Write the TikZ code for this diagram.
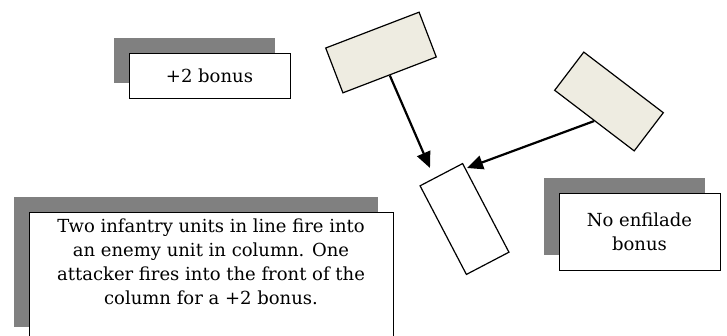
\documentclass[tikz,border=0pt]{standalone}
\usepackage{fontspec}
\setmainfont{DejaVu Serif}
\usepackage{tikz}
\usetikzlibrary{arrows.meta, positioning, shadows}
\definecolor{unitfill}{HTML}{EEECE1}
\definecolor{shadowgray}{RGB}{128,128,128}
\tikzset{
    unitblock/.style={
        rectangle,
        draw=black,
        line width=1.2pt,
        fill=unitfill,
        inner sep=0pt,
        minimum width=100pt,
        minimum height=48pt
    },
    notebox/.style={
        rectangle,
        draw=black,
        line width=1pt,
        fill=white,
        text centered,
        font={\fontsize{18}{24}\selectfont},
        drop shadow={shadow xshift=-15pt, shadow yshift=15pt, fill=shadowgray, opacity=1}
    },
    notetext/.style={
        align=center,
        inner sep=4pt,
        font={\fontsize{18}{24}\selectfont}
    },
    fire/.style={
        draw=black,
        line width=2.2pt,
        -{Triangle[length=16pt, width=14pt]}
    }
}
\begin{document}
\begin{tikzpicture}[x=1pt, y=-1pt]
\useasboundingbox (0,0) rectangle (727,335);

% Notes
\node[notebox, minimum width=161pt, minimum height=45pt] (bonus) at (209.5,75.5) {+2 bonus};
\node[notebox, minimum width=161pt, minimum height=77pt, align=center] (enfilade) at (639.5,231.5) {No enfilade\\bonus};
\node[notebox, minimum width=364pt, minimum height=130pt] (summary) at (211,277) {};
\node[notetext, below=3pt of summary.north] (summarytext) {Two infantry units in line fire into\\an enemy unit in column. One\\attacker fires into the front of the\\column for a +2 bonus.};

% Units
\node[unitblock, rotate=21] (atkleft) at (381,52.5) {};
\node[unitblock, rotate=-37.3] (atkright) at (609,101.5) {};
\node[unitblock, fill=white, rotate=-62.4] (column) at (464.5,219) {};

% Fire
\coordinate (hitfront) at (430,168);
\coordinate (hitflank) at (467,168);
\draw[fire] (atkleft.south) -- (hitfront);
\draw[fire] (atkright.south) -- (hitflank);

\end{tikzpicture}
\end{document}
